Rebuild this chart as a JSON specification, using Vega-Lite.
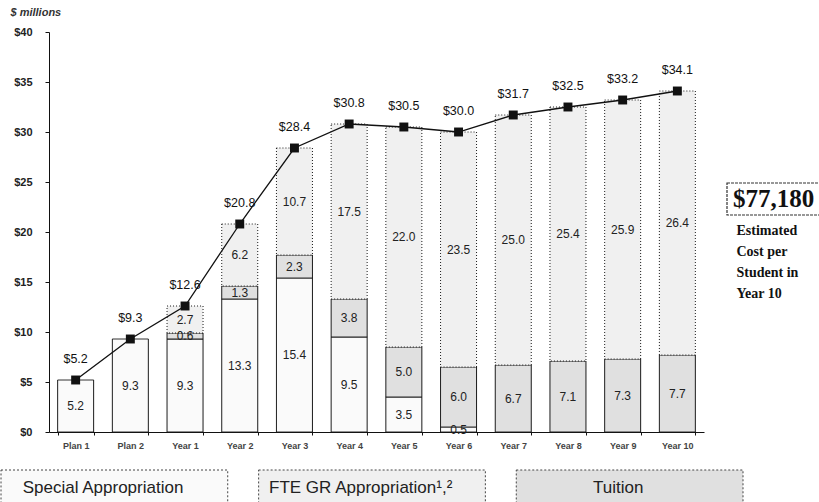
{
  "$schema": "https://vega.github.io/schema/vega-lite/v6.json",
  "padding": {"left": 0, "top": 7, "right": 0, "bottom": 0},
  "background": "white",
  "config": {"view": {"stroke": null}, "font": "Liberation Sans"},
  "title": {"text": "$ millions", "anchor": "start", "dx": 10, "fontSize": 11, "fontStyle": "italic", "fontWeight": "bold", "color": "#333", "offset": 8},
  "datasets": {
    "segments": [
      {"cat": "Plan 1", "series": "Special Appropriation", "ord": 1, "value": 5.2},
      {"cat": "Plan 2", "series": "Special Appropriation", "ord": 1, "value": 9.3},
      {"cat": "Year 1", "series": "Special Appropriation", "ord": 1, "value": 9.3},
      {"cat": "Year 1", "series": "Tuition", "ord": 2, "value": 0.6},
      {"cat": "Year 1", "series": "FTE GR Appropriation¹,²", "ord": 3, "value": 2.7},
      {"cat": "Year 2", "series": "Special Appropriation", "ord": 1, "value": 13.3},
      {"cat": "Year 2", "series": "Tuition", "ord": 2, "value": 1.3},
      {"cat": "Year 2", "series": "FTE GR Appropriation¹,²", "ord": 3, "value": 6.2},
      {"cat": "Year 3", "series": "Special Appropriation", "ord": 1, "value": 15.4},
      {"cat": "Year 3", "series": "Tuition", "ord": 2, "value": 2.3},
      {"cat": "Year 3", "series": "FTE GR Appropriation¹,²", "ord": 3, "value": 10.7},
      {"cat": "Year 4", "series": "Special Appropriation", "ord": 1, "value": 9.5},
      {"cat": "Year 4", "series": "Tuition", "ord": 2, "value": 3.8},
      {"cat": "Year 4", "series": "FTE GR Appropriation¹,²", "ord": 3, "value": 17.5},
      {"cat": "Year 5", "series": "Special Appropriation", "ord": 1, "value": 3.5},
      {"cat": "Year 5", "series": "Tuition", "ord": 2, "value": 5.0},
      {"cat": "Year 5", "series": "FTE GR Appropriation¹,²", "ord": 3, "value": 22.0},
      {"cat": "Year 6", "series": "Special Appropriation", "ord": 1, "value": 0.5},
      {"cat": "Year 6", "series": "Tuition", "ord": 2, "value": 6.0},
      {"cat": "Year 6", "series": "FTE GR Appropriation¹,²", "ord": 3, "value": 23.5},
      {"cat": "Year 7", "series": "Tuition", "ord": 2, "value": 6.7},
      {"cat": "Year 7", "series": "FTE GR Appropriation¹,²", "ord": 3, "value": 25.0},
      {"cat": "Year 8", "series": "Tuition", "ord": 2, "value": 7.1},
      {"cat": "Year 8", "series": "FTE GR Appropriation¹,²", "ord": 3, "value": 25.4},
      {"cat": "Year 9", "series": "Tuition", "ord": 2, "value": 7.3},
      {"cat": "Year 9", "series": "FTE GR Appropriation¹,²", "ord": 3, "value": 25.9},
      {"cat": "Year 10", "series": "Tuition", "ord": 2, "value": 7.7},
      {"cat": "Year 10", "series": "FTE GR Appropriation¹,²", "ord": 3, "value": 26.4}
    ],
    "totals": [
      {"cat": "Plan 1", "total": 5.2},
      {"cat": "Plan 2", "total": 9.3},
      {"cat": "Year 1", "total": 12.6},
      {"cat": "Year 2", "total": 20.8},
      {"cat": "Year 3", "total": 28.4},
      {"cat": "Year 4", "total": 30.8},
      {"cat": "Year 5", "total": 30.5},
      {"cat": "Year 6", "total": 30.0},
      {"cat": "Year 7", "total": 31.7},
      {"cat": "Year 8", "total": 32.5},
      {"cat": "Year 9", "total": 33.2},
      {"cat": "Year 10", "total": 34.1}
    ],
    "note": [
      {"kind": "box", "label": "$77,180", "y": 23.3, "lo": 21.7, "hi": 24.9},
      {"kind": "line", "label": "Estimated", "y": 20.1},
      {"kind": "line", "label": "Cost  per", "y": 18.0},
      {"kind": "line", "label": "Student in", "y": 15.9},
      {"kind": "line", "label": "Year 10", "y": 13.8}
    ],
    "legend": [
      {"series": "Special Appropriation"},
      {"series": "FTE GR Appropriation¹,²"},
      {"series": "Tuition"}
    ]
  },
  "spacing": 19,
  "vconcat": [
    {
      "spacing": 22,
      "hconcat": [
        {
          "width": 655,
          "height": 400,
          "layer": [
            {
              "data": {"name": "segments"},
              "transform": [
                {"stack": "value", "groupby": ["cat"], "sort": [{"field": "ord", "order": "ascending"}], "as": ["v0", "v1"]},
                {"calculate": "(datum.v0 + datum.v1) / 2", "as": "mid"}
              ],
              "layer": [
                {
                  "mark": {"type": "bar", "stroke": "#1a1a1a", "strokeWidth": 1},
                  "encoding": {
                    "x": {
                      "field": "cat", "type": "nominal", "sort": null,
                      "scale": {"domain": ["Plan 1", "Plan 2", "Year 1", "Year 2", "Year 3", "Year 4", "Year 5", "Year 6", "Year 7", "Year 8", "Year 9", "Year 10"], "paddingInner": 0.342, "paddingOuter": 0.158},
                      "axis": {"title": null, "labelAngle": 0, "labelFontSize": 9, "labelFontWeight": "bold", "labelColor": "#444", "domainColor": "#111", "tickColor": "#111", "tickSize": 3, "tickBand": "extent", "labelPadding": 6}
                    },
                    "y": {
                      "field": "v0", "type": "quantitative",
                      "scale": {"domain": [0, 40]},
                      "axis": {"title": null, "values": [0, 5, 10, 15, 20, 25, 30, 35, 40], "format": "$.0f", "grid": false, "domainColor": "#111", "tickColor": "#111", "tickSize": 4, "labelPadding": 13, "labelFontSize": 11, "labelFontWeight": "bold", "labelColor": "#222"}
                    },
                    "y2": {"field": "v1"},
                    "color": {
                      "field": "series", "type": "nominal",
                      "scale": {"domain": ["Special Appropriation", "Tuition", "FTE GR Appropriation¹,²"], "range": ["#fafafa", "#e0e0e0", "#f0f0f0"]},
                      "legend": null
                    },
                    "strokeDash": {
                      "field": "series", "type": "nominal",
                      "scale": {"domain": ["Special Appropriation", "Tuition", "FTE GR Appropriation¹,²"], "range": [[1, 0], [1, 0], [1, 2]]},
                      "legend": null
                    }
                  }
                },
                {
                  "mark": {"type": "text", "fontSize": 12, "color": "#222"},
                  "encoding": {
                    "x": {"field": "cat", "type": "nominal", "sort": null},
                    "y": {"field": "mid", "type": "quantitative"},
                    "text": {"field": "value", "type": "quantitative", "format": ".1f"}
                  }
                }
              ]
            },
            {
              "data": {"name": "totals"},
              "layer": [
                {
                  "mark": {"type": "line", "color": "#111", "strokeWidth": 1.3},
                  "encoding": {
                    "x": {"field": "cat", "type": "nominal", "sort": null},
                    "y": {"field": "total", "type": "quantitative"}
                  }
                },
                {
                  "mark": {"type": "point", "shape": "square", "filled": true, "size": 80, "color": "#111", "opacity": 1},
                  "encoding": {
                    "x": {"field": "cat", "type": "nominal", "sort": null},
                    "y": {"field": "total", "type": "quantitative"}
                  }
                },
                {
                  "mark": {"type": "text", "dy": -21, "fontSize": 12.5, "color": "#111"},
                  "encoding": {
                    "x": {"field": "cat", "type": "nominal", "sort": null},
                    "y": {"field": "total", "type": "quantitative"},
                    "text": {"field": "total", "type": "quantitative", "format": "$.1f"}
                  }
                }
              ]
            }
          ]
        },
        {
          "width": 93,
          "height": 400,
          "data": {"name": "note"},
          "layer": [
            {
              "transform": [{"filter": "datum.kind == 'box'"}],
              "mark": {"type": "rect", "fill": "white", "stroke": "#333", "strokeWidth": 1.2, "strokeDash": [3, 1]},
              "encoding": {
                "y": {"field": "lo", "type": "quantitative", "scale": {"domain": [0, 40]}, "axis": null},
                "y2": {"field": "hi"}
              }
            },
            {
              "transform": [{"filter": "datum.kind == 'box'"}],
              "mark": {"type": "text", "font": "Liberation Serif", "fontWeight": "bold", "fontSize": 25, "color": "#111"},
              "encoding": {
                "y": {"field": "y", "type": "quantitative", "scale": {"domain": [0, 40]}, "axis": null},
                "text": {"field": "label"}
              }
            },
            {
              "transform": [{"filter": "datum.kind == 'line'"}],
              "mark": {"type": "text", "font": "Liberation Serif", "fontWeight": "bold", "fontSize": 14, "color": "#111", "align": "left", "dx": -37},
              "encoding": {
                "y": {"field": "y", "type": "quantitative", "scale": {"domain": [0, 40]}, "axis": null},
                "text": {"field": "label"}
              }
            }
          ]
        }
      ]
    },
    {
      "width": 694,
      "height": 36,
      "data": {"name": "legend"},
      "layer": [
        {
          "mark": {"type": "rect", "stroke": "#444", "strokeWidth": 1, "strokeDash": [2, 2]},
          "encoding": {
            "x": {"field": "series", "type": "nominal", "sort": null, "scale": {"range": [-48, 694], "paddingInner": 0.12, "paddingOuter": 0}, "axis": null},
            "color": {
              "field": "series", "type": "nominal",
              "scale": {"domain": ["Special Appropriation", "Tuition", "FTE GR Appropriation¹,²"], "range": ["#fafafa", "#e0e0e0", "#f0f0f0"]},
              "legend": null
            }
          }
        },
        {
          "mark": {"type": "text", "fontSize": 17, "color": "#222"},
          "encoding": {
            "x": {"field": "series", "type": "nominal", "sort": null, "bandPosition": 0.45},
            "text": {"field": "series"}
          }
        }
      ]
    }
  ]
}
